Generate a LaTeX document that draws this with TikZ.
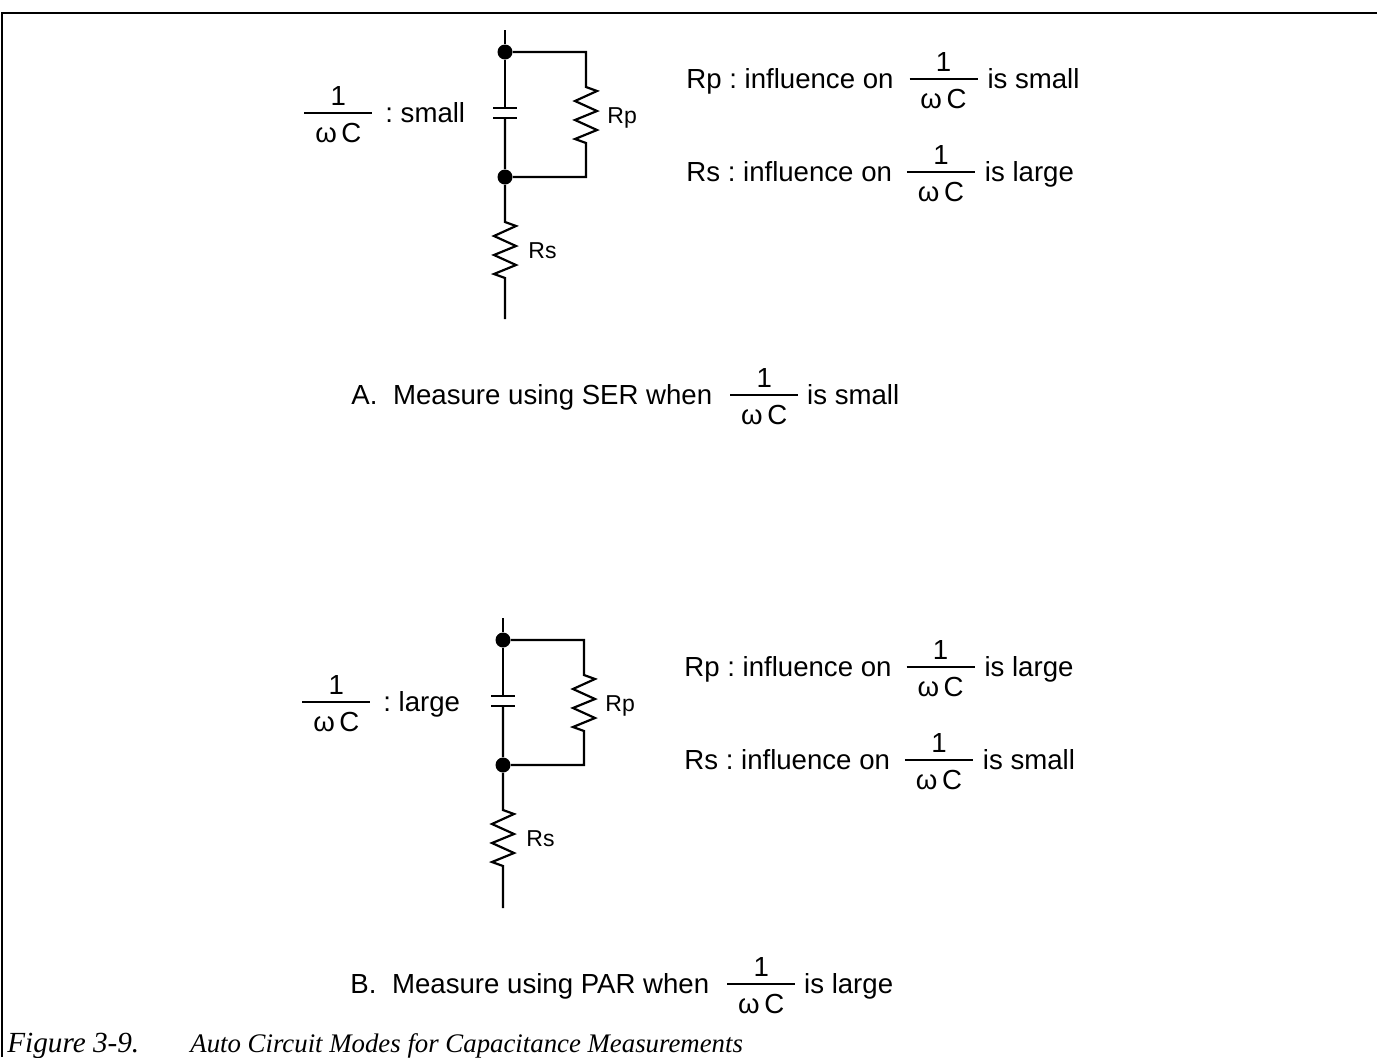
\documentclass[tikz,border=0pt]{standalone}
\usepackage{fontspec}
\setmainfont{Liberation Sans}
\newfontfamily\capfont{Liberation Serif}
\frenchspacing
\newcommand{\wfrac}{\rlap{\makebox[34pt]{\raisebox{8.5pt}{1}}}\rlap{\makebox[34pt]{\raisebox{-10pt}{ω\,C}}}\rule[4pt]{34pt}{0.8pt}}
\newcommand{\reszig}{-- ++(11,4) -- ++(-22,10) -- ++(22,10) -- ++(-22,9) -- ++(22,10) -- ++(-22,9) -- ++(11,4)}
\tikzset{
  txt/.style={anchor=base west,inner sep=0pt,font=\fontsize{13.8}{16}\selectfont},
  small label/.style={anchor=base west,inner sep=0pt,font=\fontsize{11.5}{14}\selectfont},
  cap label/.style={anchor=base west,inner sep=0pt,font=\capfont\itshape\fontsize{13.4}{16}\selectfont},
  wire/.style={line width=1.1pt},
  junction/.style={circle,fill=black,inner sep=0pt,minimum size=7.5pt},
}
\begin{document}
\begin{tikzpicture}[x=0.5pt,y=-0.5pt]
  \useasboundingbox (0,0) rectangle (1377,1057);
  % cornice
  \coordinate (fl) at (2,1057);
  \coordinate (fc) at (2,13);
  \coordinate (fr) at (1377,13);
  \draw[line width=1.1pt] (fl) -- (fc) -- (fr);

  % circuito A
  \coordinate (aTop) at (505,30);
  \node[junction] (aJ1) at (505,52) {};
  \node[junction] (aJ2) at (505,177) {};
  \coordinate (aC1) at (505,108);
  \coordinate (aC2) at (505,118);
  \coordinate (aC1l) at (493,108);
  \coordinate (aC1r) at (517,108);
  \coordinate (aC2l) at (493,118);
  \coordinate (aC2r) at (517,118);
  \coordinate (aRa) at (586,52);
  \coordinate (aRb) at (586,87);
  \coordinate (aRd) at (586,177);
  \coordinate (aSa) at (505,222);
  \coordinate (aBot) at (505,319);
  \draw[wire] (aTop) -- (aJ1) -- (aC1);
  \draw[wire] (aC1l) -- (aC1r);
  \draw[wire] (aC2l) -- (aC2r);
  \draw[wire] (aC2) -- (aJ2) -- (aSa) \reszig -- (aBot);
  \draw[wire] (aJ1) -- (aRa) -- (aRb) \reszig -- (aRd) -- (aJ2);
  \node[small label] (aRp) at (607,123) {Rp};
  \node[small label] (aRs) at (528,258) {Rs};
  \node[txt] (aVal) at (304,122) {\wfrac\hspace{6.5pt}: small};
  \node[txt] (aInfP) at (686,88) {Rp : influence on\hspace{8pt}\wfrac\hspace{5pt}is small};
  \node[txt] (aInfS) at (686,181) {Rs : influence on\hspace{7.5pt}\wfrac\hspace{5pt}is large};
  \node[txt] (aCap) at (351,404) {A.\hspace{4pt} Measure using SER when\hspace{9pt}\wfrac\hspace{4.5pt}is small};

  % circuito B
  \coordinate (bTop) at (503,618);
  \node[junction] (bJ1) at (503,640) {};
  \node[junction] (bJ2) at (503,765) {};
  \coordinate (bC1) at (503,696);
  \coordinate (bC2) at (503,706);
  \coordinate (bC1l) at (491,696);
  \coordinate (bC1r) at (515,696);
  \coordinate (bC2l) at (491,706);
  \coordinate (bC2r) at (515,706);
  \coordinate (bRa) at (584,640);
  \coordinate (bRb) at (584,675);
  \coordinate (bRd) at (584,765);
  \coordinate (bSa) at (503,810);
  \coordinate (bBot) at (503,908);
  \draw[wire] (bTop) -- (bJ1) -- (bC1);
  \draw[wire] (bC1l) -- (bC1r);
  \draw[wire] (bC2l) -- (bC2r);
  \draw[wire] (bC2) -- (bJ2) -- (bSa) \reszig -- (bBot);
  \draw[wire] (bJ1) -- (bRa) -- (bRb) \reszig -- (bRd) -- (bJ2);
  \node[small label] (bRp) at (605,711) {Rp};
  \node[small label] (bRs) at (526,846) {Rs};
  \node[txt] (bVal) at (302,711) {\wfrac\hspace{6.5pt}: large};
  \node[txt] (bInfP) at (684,676) {Rp : influence on\hspace{7.5pt}\wfrac\hspace{5pt}is large};
  \node[txt] (bInfS) at (684,769) {Rs : influence on\hspace{7.5pt}\wfrac\hspace{5pt}is small};
  \node[txt] (bCap) at (350,993) {B.\hspace{4pt} Measure using PAR when\hspace{9pt}\wfrac\hspace{4.5pt}is large};

  % didascalia
  \node[cap label,font=\capfont\itshape\fontsize{14.6}{16}\selectfont] (figNum) at (7,1052) {Figure 3-9.};
  \node[cap label] (figCap) at (190,1052) {Auto Circuit Modes for Capacitance Measurements};
\end{tikzpicture}
\end{document}
